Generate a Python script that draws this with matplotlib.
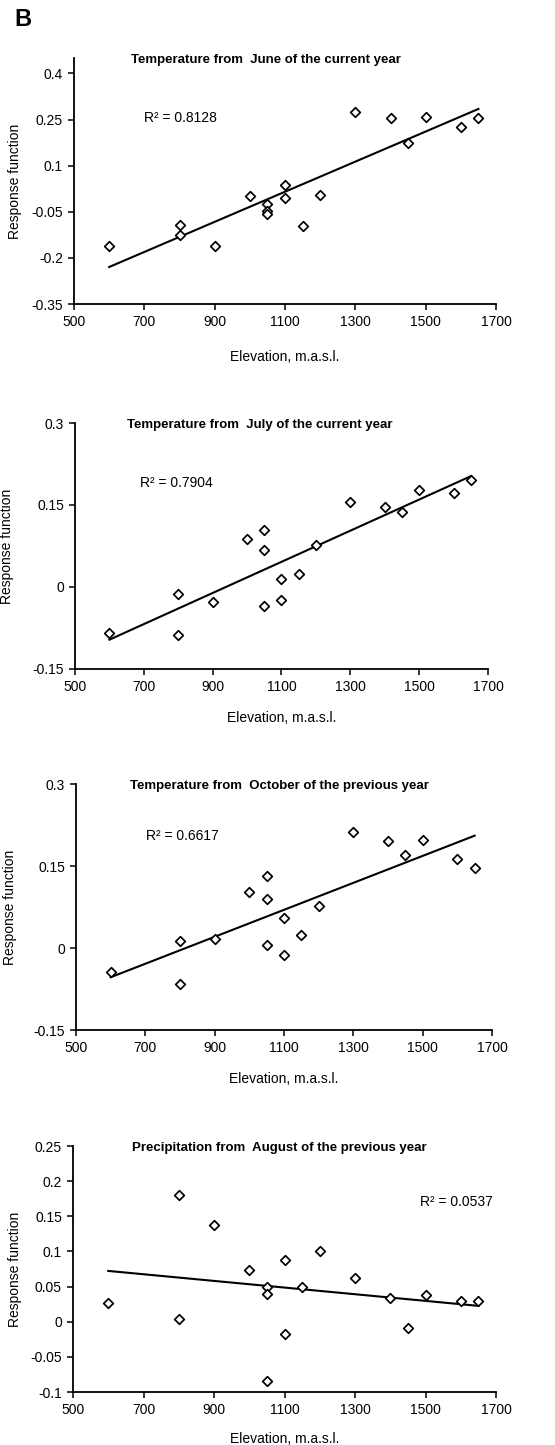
import matplotlib.pyplot as plt
import numpy as np

plt.rcParams['font.family'] = ['Liberation Sans', 'DejaVu Sans']

# elevation of each site (same for all panels)
elev = [600, 800, 800, 900, 1000, 1050, 1050, 1050, 1100, 1100,
        1150, 1200, 1300, 1400, 1450, 1500, 1600, 1650]

# response function values
june = [-0.163, -0.094, -0.126, -0.161, 0.002, -0.025, -0.048, -0.056, 0.036, -0.006,
        -0.095, 0.006, 0.274, 0.255, 0.172, 0.259, 0.226, 0.256]
july = [-0.085, -0.013, -0.088, -0.027, 0.087, 0.104, 0.068, -0.035, 0.015, -0.024,
        0.023, 0.076, 0.156, 0.147, 0.137, 0.177, 0.172, 0.195]
october = [-0.044, 0.013, -0.065, 0.016, 0.103, 0.132, 0.090, 0.006, 0.054, -0.013,
           0.023, 0.077, 0.212, 0.196, 0.171, 0.198, 0.163, 0.147]
august = [0.027, 0.180, 0.004, 0.137, 0.074, 0.050, 0.040, -0.084, 0.088, -0.018,
          0.050, 0.100, 0.062, 0.034, -0.009, 0.038, 0.029, 0.030]

titles = ["Temperature from  June of the current year",
          "Temperature from  July of the current year",
          "Temperature from  October of the previous year",
          "Precipitation from  August of the previous year"]
r2_labels = ["0.8128", "0.7904", "0.6617", "0.0537"]
yticks = [[-0.35, -0.2, -0.05, 0.1, 0.25, 0.4],
          [-0.15, 0, 0.15, 0.3],
          [-0.15, 0, 0.15, 0.3],
          [-0.1, -0.05, 0, 0.05, 0.1, 0.15, 0.2, 0.25]]
xticks = [500, 700, 900, 1100, 1300, 1500, 1700]

W, H = 555, 1445
fig = plt.figure(figsize=(W / 100, H / 100), dpi=100)

# layout in pixels: left, right, top, bottom
boxes = [(74, 496, 58, 304), (75, 488, 423, 669), (76, 492, 784, 1030), (73, 496, 1146, 1392)]
ylims = [(-0.35, 0.45), (-0.15, 0.3), (-0.15, 0.3), (-0.1, 0.25)]
title_x = [0.455, 0.448, 0.49, 0.487]
r2_pos = [(699, 0.255), (690, 0.19), (701, 0.204), (1484, 0.171)]
ylabel_px = [22, 14, 17, 22]
xlabel_off = [46, 42, 42, 40]

for i, vals in enumerate([june, july, october, august]):
    l, r, t, b = boxes[i]
    ax = fig.add_axes([l / W, 1 - b / H, (r - l) / W, (b - t) / H])
    x = np.array(elev)
    y = np.array(vals)
    ax.scatter(x, y, marker='D', s=24, facecolors='white', edgecolors='black',
               linewidths=1.25, zorder=3)
    k, c = np.polyfit(x, y, 1)
    xs = np.array([600, 1650])
    ax.plot(xs, k * xs + c, color='black', lw=1.5, zorder=2)

    ax.set_xlim(500, 1700)
    ax.set_ylim(*ylims[i])
    ax.set_xticks(xticks)
    ax.set_yticks(yticks[i])
    ax.set_yticklabels([f"{v:g}" for v in yticks[i]])
    for s in ['top', 'right']:
        ax.spines[s].set_visible(False)
    ax.spines['left'].set_linewidth(1.3)
    ax.spines['bottom'].set_linewidth(1.3)
    ax.tick_params(labelsize=10, length=4, width=1.1, pad=4)

    ax.text(title_x[i], 0.99, titles[i], transform=ax.transAxes, ha='center',
            va='center', fontsize=9.5, fontweight='bold')
    ax.text(r2_pos[i][0], r2_pos[i][1], "R² = " + r2_labels[i], ha='left',
            va='center', fontsize=10)

    ax.set_ylabel("Response function", fontsize=10)
    ax.yaxis.set_label_coords((ylabel_px[i] - l) / (r - l), 0.5)
    ax.set_xlabel("Elevation, m.a.s.l.", fontsize=10)
    ax.xaxis.set_label_coords(0.5, -xlabel_off[i] / (b - t))

fig.text(14 / W, 1 - 20 / H, "B", fontsize=17, fontweight='bold', va='center', ha='left')

fig.savefig("out.png", dpi=100)
